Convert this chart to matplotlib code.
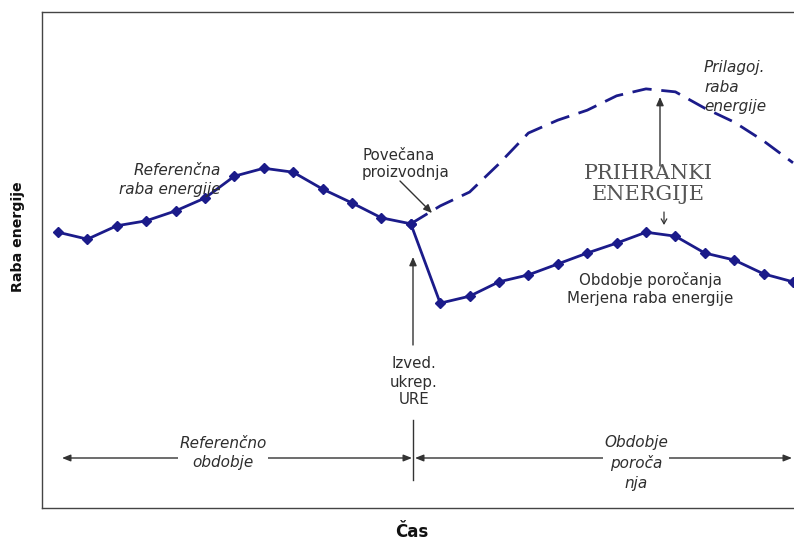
import matplotlib
matplotlib.use("Agg")
import matplotlib.pyplot as plt

# ---- data (time index, energy use in arbitrary units) ----
ref_t = [0, 1, 2, 3, 4, 5, 6, 7, 8, 9, 10, 11, 12]
ref_v = [55.6, 54.2, 56.9, 57.9, 59.9, 62.5, 66.9, 68.5, 67.7, 64.3, 61.5, 58.5, 57.3]
rep_t = [12, 13, 14, 15, 16, 17, 18, 19, 20, 21, 22, 23, 24, 25]
rep_v = [57.3, 41.3, 42.7, 45.6, 47.0, 49.2, 51.4, 53.4, 55.6, 54.8, 51.4, 50.0, 47.2, 45.6]
adj_t = [12, 13, 14, 15, 16, 17, 18, 19, 20, 21, 22, 23, 24, 25]
adj_v = [57.3, 60.9, 63.7, 69.4, 75.6, 78.2, 80.2, 83.1, 84.5, 83.9, 80.6, 77.8, 74.0, 69.6]

NAVY = "#1B1B8A"
TXT = "#2E2E2E"

W, H = 794, 540
fig = plt.figure(figsize=(W / 100, H / 100), dpi=100)
ax_l, ax_r, ax_t, ax_b = 42, 794, 12, 508
ax = fig.add_axes([ax_l / W, 1 - ax_b / H, (ax_r - ax_l) / W, (ax_b - ax_t) / H])

# x: t=0 at px 58, 29.4 px per step ; y: 0..100 over px 508..12
x0, dx = 58, 29.4
ax.set_xlim((ax_l - x0) / dx, (ax_r - x0) / dx)
ax.set_ylim(0, 100)


def P(px, py):
    return ((px - x0) / dx, (ax_b - py) / (ax_b - ax_t) * 100)


ax.plot(ref_t, ref_v, color=NAVY, lw=2.0, marker="D", ms=5.5, zorder=3)
ax.plot(rep_t, rep_v, color=NAVY, lw=2.0, marker="D", ms=5.5, zorder=3)
ax.plot(adj_t, adj_v, color=NAVY, lw=2.0, dashes=(7, 3.5), zorder=2)

ax.set_xticks([])
ax.set_yticks([])
for s in ["left", "bottom", "top"]:
    ax.spines[s].set_color("#444444")
    ax.spines[s].set_linewidth(1.0)
ax.spines["right"].set_visible(False)

sans = "DejaVu Sans"
it = dict(family=sans, style="italic", color=TXT, fontsize=11)
rg = dict(family=sans, color=TXT, fontsize=10.8)

ax.text(*P(221, 180), "Referenčna\nraba energije", ha="right", va="center",
        linespacing=1.35, **it)
ax.text(*P(362, 164), "Povečana\nproizvodnja", ha="left", va="center",
        linespacing=1.15, **rg)
ax.text(*P(704, 87), "Prilagoj.\nraba\nenergije", ha="left", va="center",
        linespacing=1.4, **it)
ax.text(*P(650, 289), "Obdobje poročanja\nMerjena raba energije", ha="center",
        va="center", linespacing=1.2, **rg)
ax.text(*P(414, 382), "Izved.\nukrep.\nURE", ha="center", va="center",
        linespacing=1.25, **rg)
ax.text(*P(648, 184), "PRIHRANKI\nENERGIJE", ha="center", va="center",
        family="DejaVu Serif", fontsize=15, color="#555555", linespacing=1.15)

arr = dict(arrowstyle="-|>,head_length=0.5,head_width=0.22", color="#333333", lw=1.0,
           shrinkA=0, shrinkB=0)
ax.annotate("", xy=P(432, 213), xytext=P(400, 181), arrowprops=arr)
ax.annotate("", xy=P(660, 97), xytext=P(660, 166), arrowprops=arr)
ax.annotate("", xy=P(413, 257), xytext=P(413, 345), arrowprops=arr)
ax.annotate("", xy=P(664, 225), xytext=P(664, 212),
            arrowprops=dict(arrowstyle="->,head_length=0.35,head_width=0.2",
                            color="#333333", lw=0.9, shrinkA=0, shrinkB=0))

# divider and period arrows
ax.plot(*zip(P(413, 420), P(413, 480)), color="#333333", lw=1.0)
darr = dict(arrowstyle="<|-|>,head_length=0.5,head_width=0.2", color="#333333",
            lw=1.0, shrinkA=0, shrinkB=0)
ax.annotate("", xy=P(62, 458), xytext=P(412, 458), arrowprops=darr)
ax.annotate("", xy=P(415, 458), xytext=P(792, 458), arrowprops=darr)
box = dict(facecolor="white", edgecolor="none", pad=1)
ax.text(*P(223, 453), "Referenčno\nobdobje", ha="center", va="center",
        linespacing=1.35, bbox=box, **it)
ax.text(*P(636, 463), "Obdobje\nporoča\nnja", ha="center", va="center",
        linespacing=1.4, bbox=box, **it)

fig.text(18 / W, 1 - 237 / H, "Raba energije", rotation=90, ha="center",
         va="center", family=sans, fontweight="bold", fontsize=10.2, color="#111111")
fig.text(412 / W, 1 - 532 / H, "Čas", ha="center", va="center", family=sans,
         fontweight="bold", fontsize=12, color="#111111")

fig.savefig("out.png", dpi=100)
